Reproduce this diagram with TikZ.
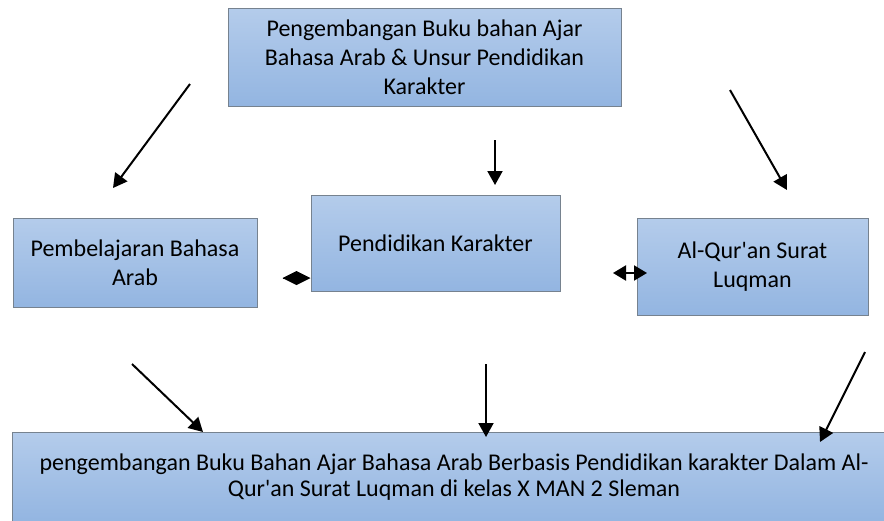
\documentclass[tikz,border=0pt]{standalone}
\usepackage{fontspec}
\setmainfont{Carlito}[Ligatures=TeXOff]
\usetikzlibrary{arrows.meta}

\definecolor{boxtop}{HTML}{B4CCEB}
\definecolor{boxbot}{HTML}{93B5E1}
\definecolor{boxline}{HTML}{76828F}

\tikzset{
  box/.style={draw=boxline, line width=1pt, top color=boxtop, bottom color=boxbot,
    align=center, inner sep=0pt, font=\fontsize{24}{29}\selectfont},
  link/.style={line width=2pt, -{Triangle[length=14pt,width=15pt]}}
}

\begin{document}
\begin{tikzpicture}[x=1pt,y=-1pt]
        \useasboundingbox (0,0) rectangle (884,520);
        \clip (0,0) rectangle (884,520);

        % Boxes
        \node[box, minimum width=393, minimum height=98] (top) at (424.5,57)
          {Pengembangan Buku bahan Ajar\\Bahasa Arab \& Unsur Pendidikan\\Karakter};
        \node[box, minimum width=244, minimum height=89] (arab) at (135,262.5)
          {Pembelajaran Bahasa\\Arab};
        \node[box, minimum width=249, minimum height=96] (karakter) at (435.5,243)
          {Pendidikan Karakter};
        \node[box, minimum width=231, minimum height=97] (luqman) at (752.5,266.5)
          {Al-Qur'an Surat\\Luqman};
        \node[box, minimum width=884, minimum height=90, font=\fontsize{24}{26}\selectfont] (hasil) at (454,477)
          {pengembangan Buku Bahan Ajar Bahasa Arab Berbasis Pendidikan karakter Dalam Al-\\Qur'an Surat Luqman di kelas X MAN 2 Sleman};

        % Arrow ends
        \coordinate (a1) at (190,84);   \coordinate (b1) at (113,188);
        \coordinate (a2) at (495,140);  \coordinate (b2) at (495,185);
        \coordinate (a3) at (730,90);   \coordinate (b3) at (787,190);
        \coordinate (a4) at (132,364);  \coordinate (b4) at (203,432);
        \coordinate (a5) at (486,364);  \coordinate (b5) at (486,437);
        \coordinate (a6) at (865,352);  \coordinate (b6) at (820,442);
        \coordinate (d1) at (283,278);
        \coordinate (r1) at (613,273);  \coordinate (r2) at (647,273);

        \foreach \s/\e in {a1/b1,a2/b2,a3/b3,a4/b4,a5/b5,a6/b6}{
        \draw[link] (\s) -- (\e);
        }

        \draw[line width=1pt, -{Diamond[length=28pt,width=14pt]}] (d1) -- (karakter.west |- d1);
        \draw[line width=2pt, {Triangle[length=13pt,width=15pt]}-{Triangle[length=13pt,width=15pt]}] (r1) -- (r2);
        \end{tikzpicture}
\end{document}
